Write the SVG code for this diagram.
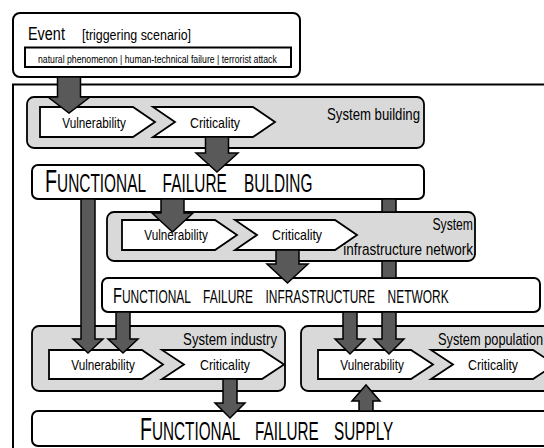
<svg xmlns="http://www.w3.org/2000/svg" width="544" height="448" viewBox="0 0 544 448">
<style>
text{font-family:"Liberation Sans",Arial,sans-serif;fill:#000}
.box{fill:#fff;stroke:#000;stroke-width:2}
.grp{fill:#d9d9d9;stroke:#000;stroke-width:1.8}
.chev{fill:#fff;stroke:#000;stroke-width:1.8;stroke-linejoin:miter}
.arr{fill:#595959;stroke:#000;stroke-width:1.5;stroke-linejoin:miter}
.lbl{font-size:15px;text-anchor:middle}
.sys{font-size:16px;text-anchor:end}
.ff{font-size:32px}
.ffs{font-size:25px}
</style>
<rect width="544" height="448" fill="#fff"/>
<g id="outer-frame"><rect x="13" y="84.5" width="560" height="390" fill="#fff" stroke="#000" stroke-width="2"/></g>
<g id="event">
<rect class="box" x="13" y="13" width="287" height="64" rx="7"/>
<text transform="translate(28,39.5) scale(0.76,1)" font-size="19">Event</text>
<text transform="translate(82,39.5) scale(0.828,1)" font-size="15">[triggering scenario]</text>
<rect class="box" x="25" y="47.5" width="266" height="19.5"/>
<text transform="translate(38,62.5) scale(0.87,1)" font-size="10">natural phenomenon | human-technical failure | terrorist attack</text>
</g>
<g id="system-building">
<rect class="grp" x="27" y="97" width="397" height="51" rx="7"/>
<polygon class="chev" points="40,107 133,107 155,122 133,137 40,137"/>
<polygon class="chev" points="153,107 253,107 275,122 253,137 153,137 175,122"/>
<text class="sys" transform="translate(420,120) scale(0.824,1)">System building</text>
</g>
<g id="ff-building">
<rect class="box" x="32" y="165" width="392" height="34" rx="6"/>
<text class="ff" word-spacing="21" transform="translate(45,191.5) scale(0.616,1)">F<tspan class="ffs">UNCTIONAL FAILURE BULDING</tspan></text>
</g>
<g id="system-infrastructure">
<rect class="grp" x="107" y="212" width="368" height="49" rx="7"/>
<polygon class="chev" points="122,220 215,220 237,235 215,250 122,250"/>
<polygon class="chev" points="235,220 335,220 357,235 335,250 235,250 257,235"/>
<text class="sys" transform="translate(473,229.5) scale(0.76,1)">System</text>
<text class="sys" transform="translate(473,255) scale(0.845,1)">infrastructure network</text>
</g>
<g id="ff-infrastructure">
<rect class="box" x="102" y="278" width="438" height="34" rx="6"/>
<text font-size="22" word-spacing="14" transform="translate(113,303) scale(0.664,1)">F<tspan font-size="18">UNCTIONAL FAILURE INFRASTRUCTURE NETWORK</tspan></text>
</g>
<g id="system-industry">
<rect class="grp" x="32" y="326" width="253" height="65" rx="7"/>
<polygon class="chev" points="49,350 142,350 163,364.5 142,379 49,379"/>
<polygon class="chev" points="162,350 262,350 284,364.5 262,379 162,379 184,364.5"/>
<text class="sys" transform="translate(277,345) scale(0.826,1)">System industry</text>
</g>
<g id="system-population">
<rect class="grp" x="301" y="326" width="270" height="65" rx="7"/>
<polygon class="chev" points="318,350 411,350 433,364.5 411,379 318,379"/>
<polygon class="chev" points="431,350 533,350 555,364.5 533,379 431,379 453,364.5"/>
<text font-size="16" transform="translate(438,345) scale(0.8,1)">System population</text>
</g>
<g id="ff-supply">
<rect class="box" x="32" y="411" width="530" height="35" rx="6"/>
<text class="ff" word-spacing="18" transform="translate(140,440) scale(0.612,1)">F<tspan class="ffs">UNCTIONAL FAILURE SUPPLY</tspan></text>
</g>
<g id="connectors">
<polygon class="arr" points="57.5,77 57.5,97 48,97 69,113 90,97 80.5,97 80.5,77"/>
<polygon class="arr" points="205.5,137 205.5,153 196,153 217,172 238,153 228.5,153 228.5,137"/>
<polygon class="arr" points="161,199 161,213 152,213 172.5,232 193,213 184,213 184,199"/>
<polygon class="arr" points="276,250 276,264 267,264 287.5,283 308,264 299,264 299,250"/>
<polygon class="arr" points="81,199 81,339 73,339 88,353 103,339 95,339 95,199"/>
<polygon class="arr" points="116,312 116,339 108,339 123,353 138,339 130,339 130,312"/>
<polygon class="arr" points="343,312 343,339 335,339 350,354 365,339 357,339 357,312"/>
<path class="arr" d="M382,199 V212 H396 V199 Z M382,261 V278 H396 V261 Z M382,312 V339 H374 L389,354 L404,339 H396 V312 Z"/>
<polygon class="arr" points="223,379 223,403 215,403 230,418 245,403 237,403 237,379"/>
<polygon class="arr" points="359,411 359,401 352,401 366,385 380,401 373,401 373,411"/>
</g>
<g id="chevron-labels">
<text class="lbl" transform="translate(94,127.5) scale(0.783,1)">Vulnerability</text>
<text class="lbl" transform="translate(215,127.5) scale(0.822,1)">Criticality</text>
<text class="lbl" transform="translate(176,240) scale(0.783,1)">Vulnerability</text>
<text class="lbl" transform="translate(297,240) scale(0.822,1)">Criticality</text>
<text class="lbl" transform="translate(103,370) scale(0.783,1)">Vulnerability</text>
<text class="lbl" transform="translate(225,370) scale(0.822,1)">Criticality</text>
<text class="lbl" transform="translate(372,370) scale(0.783,1)">Vulnerability</text>
<text class="lbl" transform="translate(493,370) scale(0.822,1)">Criticality</text>
</g>
</svg>
